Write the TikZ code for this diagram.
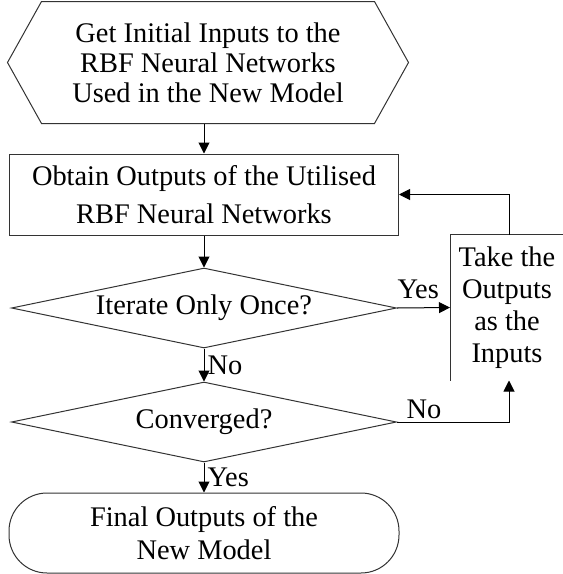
\documentclass[tikz,border=0pt]{standalone}
\usepackage{fontspec}
\setmainfont{Liberation Serif}
\usepackage{tikz}
\usetikzlibrary{shapes.geometric,arrows.meta}

\begin{document}
\begin{tikzpicture}[x=0.5pt, y=-0.5pt, line width=0.5pt, >={Triangle[length=5.5pt,width=5.5pt]},
    txt/.style={font=\fontsize{14.2}{#1}\selectfont, align=center, inner sep=0pt},
    procbox/.style={rectangle, draw=black!80, minimum width=194.5pt, minimum height=40.5pt, txt=19},
    decision/.style={diamond, draw=black!80, aspect=4.8, minimum width=192.5pt, minimum height=40pt, txt=15.5},
    terminal/.style={rectangle, draw=black!80, rounded corners=19pt, minimum width=195pt, minimum height=40pt, txt=16.5},
    lbl/.style={font=\fontsize{14.2}{15.5}\selectfont, inner sep=1.5pt}]
    \useasboundingbox (0,0) rectangle (563,574);

    \node[txt=15, minimum width=200pt, minimum height=60.5pt] (init) at (208,62.5) {Get Initial Inputs to the\\RBF Neural Networks\\Used in the New Model};
    \draw[black!80] (init.west) -- ([xshift=17pt]init.north west) -- ([xshift=-17pt]init.north east)
        -- (init.east) -- ([xshift=-17pt]init.south east) -- ([xshift=17pt]init.south west) -- cycle;
    \node[procbox] (outs) at (204,194.5) {Obtain Outputs of the Utilised\\RBF Neural Networks};
    \node[decision] (once) at (204,308) {Iterate Only Once?};
    \node[decision] (conv) at (204,422) {Converged?};
    \node[terminal] (final) at (204,533) {Final Outputs of the\\New Model};
    \node[txt=16, minimum width=56.5pt, minimum height=72.5pt] (take) at (507,307.5) {Take the\\Outputs\\as the\\Inputs};
    \draw[black!80] (take.south west) |- (take.north east);

    \draw[->] (init.south -| outs.north) -- (outs.north);
    \draw[->] (outs.south) -- (once.north);
    \draw[->] (once.south) -- node[lbl, right] {No} (conv.north);
    \draw[->] (conv.south) -- node[lbl, right] {Yes} (final.north);
    \draw[->] (once.east) -- node[lbl, above, pos=0.4, yshift=3pt] {Yes} (take.west);
    \draw[->] (conv.east) -| node[lbl, above, pos=0.12] {No} ([xshift=1pt]take.south);
    \draw[->] ([xshift=1pt]take.north) |- (outs.east);
\end{tikzpicture}
\end{document}
